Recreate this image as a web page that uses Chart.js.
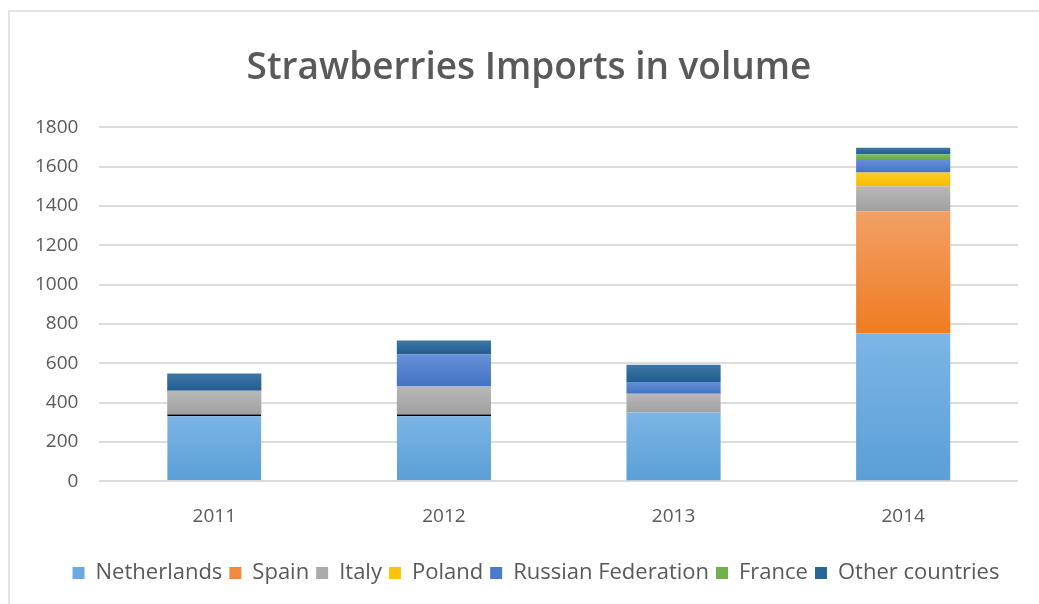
<!DOCTYPE html>
<html lang="en">
<head>
    <meta charset="UTF-8">
    <title>Strawberries Imports in volume</title>
    <script src="https://cdn.jsdelivr.net/npm/chart.js"></script>
    <style>
        html, body { margin: 0; padding: 0; background: #fff; }
        .frame {
            position: absolute;
            left: 8px;
            top: 10px;
            width: 1040px;
            height: 600px;
            border: 2px solid #e3e3e3;
            box-sizing: border-box;
        }
        .chart-box {
            position: absolute;
            left: 8px;
            top: 10px;
            width: 1031px;
            height: 594px;
        }
    </style>
</head>
<body>
    <div class="frame"></div>
    <div class="chart-box">
        <canvas id="importsChart"></canvas>
    </div>
    <script>
        // Import volumes per year, stacked by country of origin
        var years = ['2011', '2012', '2013', '2014'];
        var netherlands = [340, 340, 350, 752];
        var spain = [0, 0, 0, 622];
        var italy = [120, 142, 95, 127];
        var poland = [0, 0, 0, 70];
        var russianFederation = [0, 163, 60, 63];
        var france = [0, 0, 0, 30];
        var otherCountries = [88, 71, 88, 32];
        var yTicks = [0, 200, 400, 600, 800, 1000, 1200, 1400, 1600, 1800];

        var textColor = '#595959';

        // light top -> base colour at the bottom of every stacked block
        function shaded(light, dark) {
            return function (ctx) {
                var chart = ctx.chart;
                var y = chart.scales.y;
                if (!y || ctx.type !== 'data') return dark;
                var base = 0;
                for (var d = 0; d < ctx.datasetIndex; d++) {
                    base += chart.data.datasets[d].data[ctx.dataIndex];
                }
                var top = base + chart.data.datasets[ctx.datasetIndex].data[ctx.dataIndex];
                var y0 = y.getPixelForValue(top);
                var y1 = y.getPixelForValue(base);
                if (!isFinite(y0) || !isFinite(y1) || y1 - y0 < 1) return dark;
                var g = chart.ctx.createLinearGradient(0, y0, 0, y1);
                g.addColorStop(0, light);
                g.addColorStop(1, dark);
                return g;
            };
        }

        function series(label, data, light, dark) {
            return {
                label: label,
                data: data,
                backgroundColor: shaded(light, dark),
                borderWidth: 0,
                barPercentage: 0.41,
                categoryPercentage: 1.0
            };
        }

        var datasets = [
            series('Netherlands', netherlands, '#7db5e6', '#5a9fd6'),
            series('Spain', spain, '#f3a066', '#ee7c22'),
            series('Italy', italy, '#b8b8b8', '#a0a0a0'),
            series('Poland', poland, '#ffcc22', '#f6bd00'),
            series('Russian Federation', russianFederation, '#6590d8', '#4472c4'),
            series('France', france, '#82bd5c', '#6aa842'),
            series('Other countries', otherCountries, '#3f78a6', '#225d90')
        ];
        // legend swatches use the flat colour
        var swatch = ['#6aaae0', '#f08a3c', '#ababab', '#fdc30a', '#4b7bcc', '#72b04b', '#286598'];

        // dark rule on top of the Netherlands block in the first two years
        datasets[0].borderColor = '#000';
        datasets[0].borderSkipped = false;
        datasets[0].borderWidth = function (ctx) {
            return ctx.dataIndex < 2 ? { top: 2, bottom: 0, left: 0, right: 0 } : 0;
        };

        // nudge title and legend to the right of the default centre
        var shiftBlocks = {
            id: 'shiftBlocks',
            afterLayout: function (chart) {
                if (chart.titleBlock) {
                    chart.titleBlock.left += 13;
                    chart.titleBlock.right += 13;
                }
                if (chart.legend) {
                    chart.legend.left += 20;
                    chart.legend.right += 20;
                }
            }
        };

        new Chart(document.getElementById('importsChart'), {
            type: 'bar',
            data: { labels: years, datasets: datasets },
            plugins: [shiftBlocks],
            options: {
                responsive: true,
                maintainAspectRatio: false,
                animation: false,
                layout: { padding: { left: 6, right: 21, top: 8, bottom: 10 } },
                plugins: {
                    title: {
                        display: true,
                        text: 'Strawberries Imports in volume',
                        color: textColor,
                        font: { family: 'Open Sans', size: 37, weight: '600' },
                        padding: { top: 28, bottom: 37 }
                    },
                    legend: {
                        position: 'bottom',
                        labels: {
                            color: textColor,
                            font: { family: 'Open Sans', size: 22 },
                            boxWidth: 12,
                            boxHeight: 12,
                            padding: 7,
                            generateLabels: function (chart) {
                                return chart.data.datasets.map(function (ds, i) {
                                    return {
                                        text: ds.label,
                                        fillStyle: swatch[i],
                                        strokeStyle: swatch[i],
                                        lineWidth: 0,
                                        fontColor: textColor,
                                        datasetIndex: i
                                    };
                                });
                            }
                        }
                    },
                    tooltip: { enabled: false }
                },
                scales: {
                    x: {
                        stacked: true,
                        grid: { display: false },
                        border: { display: false },
                        ticks: { color: textColor, font: { family: 'Open Sans', size: 19 }, padding: 16 },
                        afterFit: function (scale) { scale.height += 11; }
                    },
                    y: {
                        stacked: true,
                        min: 0,
                        max: 1800,
                        afterBuildTicks: function (axis) {
                            axis.ticks = yTicks.map(function (v) { return { value: v }; });
                        },
                        grid: { color: '#dcdcdc', lineWidth: 2, drawTicks: false },
                        border: { display: false },
                        ticks: {
                            color: textColor,
                            font: { family: 'Open Sans', size: 19 },
                            padding: 21,
                            callback: function (v) { return String(v); }
                        }
                    }
                }
            }
        });
    </script>
</body>
</html>
